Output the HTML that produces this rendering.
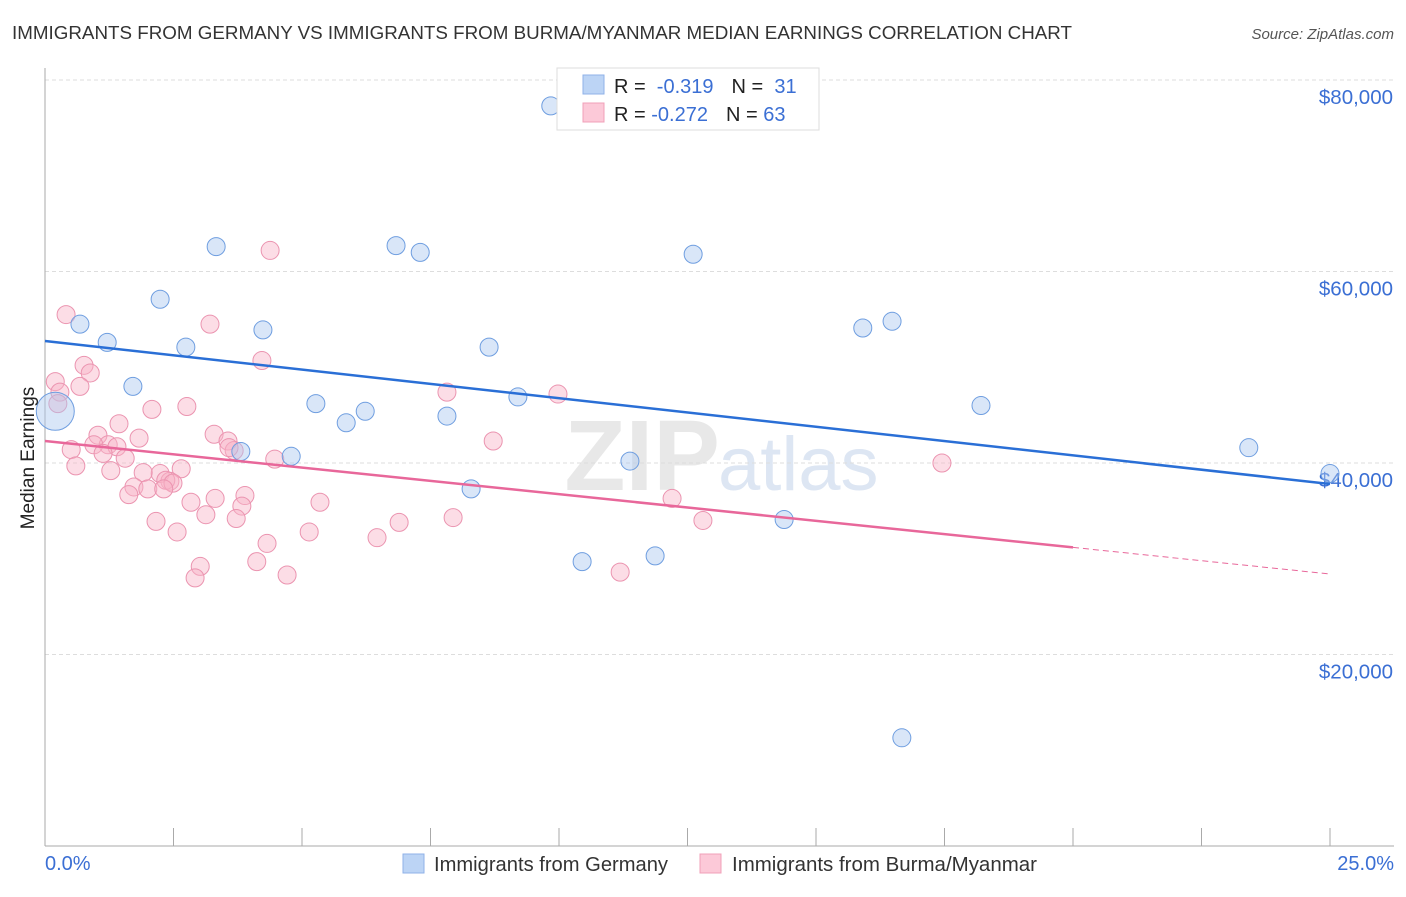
<!DOCTYPE html>
<html><head><meta charset="utf-8"><style>
body{margin:0;background:#fff;font-family:"Liberation Sans",sans-serif}
svg text{font-family:"Liberation Sans",sans-serif}
</style></head><body>
<svg id="chart" width="1406" height="892" viewBox="0 0 1406 892">
<text x="12" y="39" font-size="18" fill="#333" textLength="1060" lengthAdjust="spacingAndGlyphs">IMMIGRANTS FROM GERMANY VS IMMIGRANTS FROM BURMA/MYANMAR MEDIAN EARNINGS CORRELATION CHART</text>
<text x="1394" y="39" font-size="15" fill="#555" font-style="italic" text-anchor="end">Source: ZipAtlas.com</text>
<text x="720" y="490" font-size="100" fill="#e8e8e8" font-weight="bold" text-anchor="end">ZIP</text>
<text x="718" y="490" font-size="76" fill="#dde6f3">atlas</text>
<g id="grid"></g>
<g id="axes"></g>
<g id="marks"></g>
<text transform="translate(34,458) rotate(-90)" font-size="19" fill="#222" text-anchor="middle">Median Earnings</text>
<text x="45" y="870" font-size="20" fill="#3b6fd4">0.0%</text>
<text x="1394" y="870" font-size="20" fill="#3b6fd4" text-anchor="end">25.0%</text>
<g>
<rect x="557" y="68" width="262" height="62" fill="#fff" stroke="#ddd"/>
<rect x="583" y="75" width="21" height="19" fill="#bcd4f5" stroke="#8fb2e8"/>
<rect x="583" y="103" width="21" height="19" fill="#fcc9d8" stroke="#f0a0b8"/>
<text x="614" y="93" font-size="20" fill="#222">R = <tspan fill="#3b6fd4">&#160;-0.319</tspan><tspan dx="18">N = </tspan><tspan fill="#3b6fd4">&#160;31</tspan></text>
<text x="614" y="121" font-size="20" fill="#222">R = <tspan fill="#3b6fd4">-0.272</tspan><tspan dx="18">N = </tspan><tspan fill="#3b6fd4">63</tspan></text>
</g>
<g>
<rect x="403" y="854" width="21" height="19" fill="#bcd4f5" stroke="#8fb2e8"/>
<text x="434" y="871" font-size="20" fill="#333" textLength="234" lengthAdjust="spacingAndGlyphs">Immigrants from Germany</text>
<rect x="700" y="854" width="21" height="19" fill="#fcc9d8" stroke="#f0a0b8"/>
<text x="732" y="871" font-size="20" fill="#333" textLength="305" lengthAdjust="spacingAndGlyphs">Immigrants from Burma/Myanmar</text>
</g>
</svg>
<script>
const yTicks=[20000,40000,60000,80000];
const yTickLabels=["$20,000","$40,000","$60,000","$80,000"];
const germanyX=[9.84,3.33,6.83,7.30,12.61,2.24,0.68,4.24,1.21,2.74,15.91,16.48,8.64,1.71,5.27,6.23,5.86,7.82,9.20,18.21,3.81,4.79,11.38,8.29,23.42,25.0,10.45,11.87,14.38,16.67,0.2];
const germanyY=[77300,62600,62700,62000,61800,57100,54500,53900,52600,52100,54100,54800,52100,48000,46200,45400,44200,44900,46900,46000,41200,40700,40200,37300,41600,38900,29700,30300,34100,11300,45400];
const burmaX=[0.41,4.38,3.21,0.76,0.88,0.68,0.2,0.29,0.25,4.22,2.08,2.76,1.44,1.03,1.83,0.51,1.23,1.40,0.95,3.29,3.56,3.68,3.58,1.56,1.13,0.6,1.28,2.65,2.24,1.91,2.43,2.35,2.49,1.73,2.0,2.31,1.63,3.89,3.31,2.84,5.35,3.83,3.72,3.13,2.16,2.57,5.14,4.47,4.32,6.46,6.89,7.94,4.12,3.02,2.92,4.71,7.82,9.98,8.72,12.2,12.8,11.19,17.45];
const burmaY=[55500,62200,54500,50200,49400,48000,48500,47400,46200,50700,45600,45900,44100,42900,42600,41400,41900,41700,41900,43000,42300,41300,41600,40500,41000,39700,39200,39400,38900,39000,38100,38200,37900,37500,37300,37300,36700,36600,36300,35900,35900,35500,34200,34600,33900,32800,32800,40400,31600,32200,33800,34300,29700,29200,28000,28300,47400,47200,42300,36300,34000,28600,40000];
const germanyTrend=[52742,37807];
const burmaTrend=[42298,28407];
const X=v=>45+v*51.4, Y=v=>846-v*191.5/20000;
const NS="http://www.w3.org/2000/svg";
function mk(tag,attrs,parent){const e=document.createElementNS(NS,tag);for(const k in attrs)e.setAttribute(k,attrs[k]);document.getElementById(parent).appendChild(e);return e;}
yTicks.forEach((t,i)=>{
 const l=mk('line',{x1:45,x2:1394,y1:Y(t),y2:Y(t),stroke:'#ddd','stroke-dasharray':'4,3'},'grid');
 
 
 const tx=mk('text',{x:1393,y:Y(t)+24,'font-size':20.5,fill:'#3b6fd4','text-anchor':'end'},'grid');
 tx.textContent=yTickLabels[i];
 
 
});
const ax=mk('line',{x1:45,x2:45,y1:68,y2:846,stroke:'#aaa'},'axes');


const bx=mk('line',{x1:45,x2:1394,y1:846,y2:846,stroke:'#aaa'},'axes');


for(let i=0;i<=10;i++){const t=mk('line',{x1:X(i*2.5),x2:X(i*2.5),y1:828,y2:846,stroke:'#aaa'},'axes');
 
 }
burmaX.forEach((x,i)=>{const c=mk('circle',{cx:X(x),cy:Y(burmaY[i]),r:9,fill:'rgba(248,180,200,0.45)',stroke:'#eb94b0','stroke-width':1},'marks');
 
 });
germanyX.forEach((x,i)=>{const big=i===germanyX.length-1;const c=mk('circle',{cx:X(x),cy:Y(germanyY[i]),r:big?19:9,fill:'rgba(170,200,240,0.45)',stroke:'#6f9ee0','stroke-width':1},'marks');
 
 });
const g1=mk('line',{x1:X(0),y1:Y(germanyTrend[0]),x2:X(25),y2:Y(germanyTrend[1]),stroke:'#2a6fd6','stroke-width':2.5},'marks');


const bAt=v=>burmaTrend[0]+(burmaTrend[1]-burmaTrend[0])*v/25;
const p1=mk('line',{x1:X(0),y1:Y(bAt(0)),x2:X(20),y2:Y(bAt(20)),stroke:'#e8679a','stroke-width':2.5},'marks');


const p2=mk('line',{x1:X(20),y1:Y(bAt(20)),x2:X(25),y2:Y(bAt(25)),stroke:'#e8679a','stroke-width':1,'stroke-dasharray':'6,4'},'marks');


</script>
</body></html>
